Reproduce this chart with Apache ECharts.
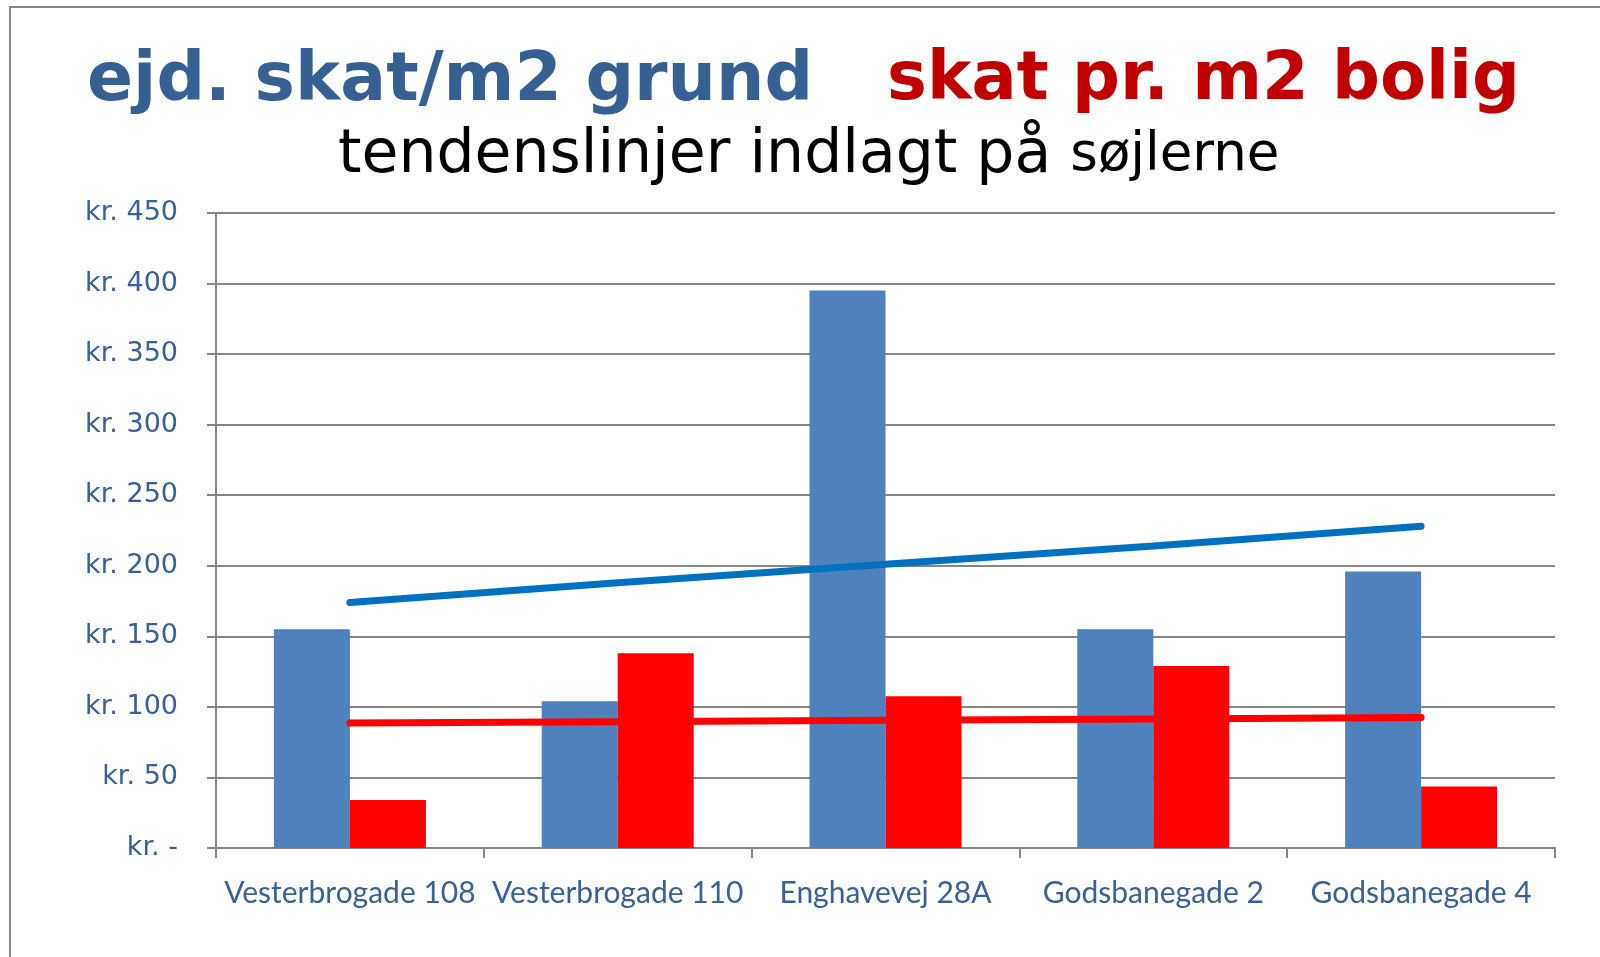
<!DOCTYPE html>
<html><head><meta charset="utf-8">
<script src="https://cdn.jsdelivr.net/npm/echarts@6/dist/echarts.min.js"></script>
<style>html,body{margin:0;padding:0;background:#fff}#c{width:1600px;height:957px}</style>
</head><body><div id="c"></div>
<script>
const categories = ['Vesterbrogade 108','Vesterbrogade 110','Enghavevej 28A','Godsbanegade 2','Godsbanegade 4'];
const grundValues = [155, 104, 395, 155, 196];
const boligValues = [34, 138, 107.5, 129, 43.5];
const trendGrund = [174, 188, 201, 214, 228];
const trendBolig = [88.5, 89.5, 90.5, 91.5, 92.5];
const yTicks = [0, 50, 100, 150, 200, 250, 300, 350, 400, 450];

const chart = echarts.init(document.getElementById('c'), null, {renderer:'canvas'});
const axisBlue = '#3A6094';
const gridGray = '#868686';
chart.setOption({
  animation:false,
  backgroundColor:'#fff',
  title:[
    {text:'ejd. skat/m2 grund', left:82, top:43, textStyle:{fontFamily:'DejaVu Sans', fontWeight:'bold', fontSize:68, color:'#376092'}},
    {text:'skat pr. m2 bolig', left:882, top:43, textStyle:{fontFamily:'DejaVu Sans', fontWeight:'bold', fontSize:67, color:'#C00000'}},
    {text:'{a|tendenslinjer indlagt på}{s| }{b|søjlerne}', left:333, top:121,
     textStyle:{fontWeight:'normal', rich:{
       a:{fontFamily:'DejaVu Sans', fontWeight:'normal', fontSize:60, color:'#000'},
       s:{fontFamily:'DejaVu Sans', fontWeight:'normal', fontSize:60, color:'#000'},
       b:{fontFamily:'DejaVu Sans', fontWeight:'normal', fontSize:53, color:'#000'}}}}
  ],
  graphic:[{type:'rect', shape:{x:10, y:7, width:1620, height:980}, style:{fill:'none', stroke:gridGray, lineWidth:2}, silent:true}],
  grid:{left:216, right:45, top:213, bottom:109},
  xAxis:{type:'category', data:categories,
    axisLine:{lineStyle:{color:gridGray, width:2}},
    axisTick:{show:true, length:10, lineStyle:{color:gridGray, width:2}},
    axisLabel:{color:axisBlue, fontFamily:'Lato', fontSize:30, margin:30, interval:0, hideOverlap:false}},
  yAxis:{type:'value', min:0, max:450, interval:50,
    axisLine:{show:true, lineStyle:{color:gridGray, width:2}},
    axisTick:{show:true, length:9, lineStyle:{color:gridGray, width:2}},
    splitLine:{lineStyle:{color:gridGray, width:2}},
    axisLabel:{color:axisBlue, fontFamily:'DejaVu Sans', fontSize:27, margin:38,
      formatter:v => yTicks.indexOf(v) === 0 ? 'kr. -' : 'kr. ' + v}},
  series:[
    {name:'grund', type:'bar', data:grundValues, barWidth:76, barGap:'0%', itemStyle:{color:'#4F81BD'}},
    {name:'bolig', type:'bar', data:boligValues, barWidth:76, itemStyle:{color:'#FF0000'}},
    {name:'trend grund', type:'line', data:trendGrund, symbol:'none', z:5, lineStyle:{color:'#0070C0', width:7, cap:'round'}},
    {name:'trend bolig', type:'line', data:trendBolig, symbol:'none', z:5, lineStyle:{color:'#FF0000', width:7, cap:'round'}}
  ]
});
</script></body></html>
